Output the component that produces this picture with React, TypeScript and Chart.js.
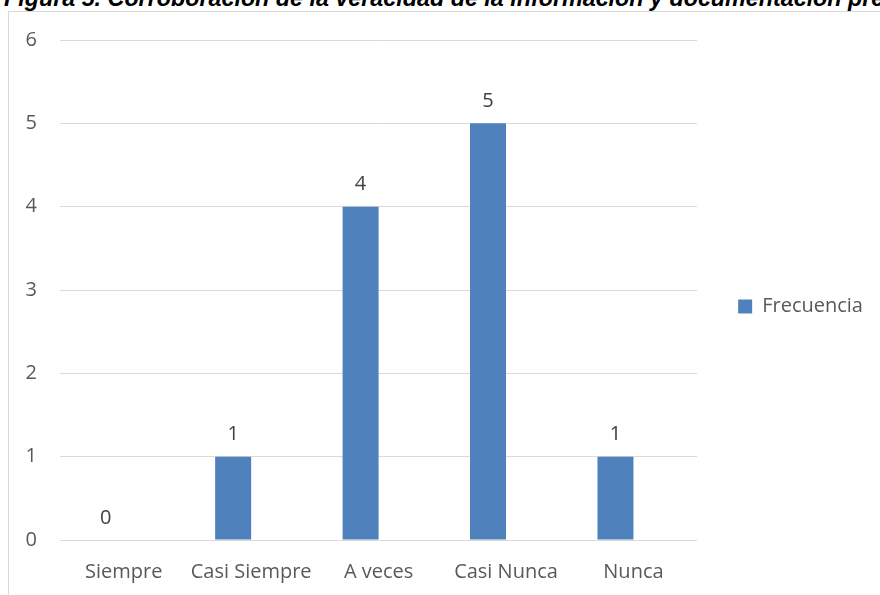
import React, { useEffect, useRef } from "react";
import { Chart, registerables } from "chart.js";

Chart.register(...registerables);

const titleText =
  "Figura 5. Corroboración de la veracidad de la información y documentación presentada";
const categories = ["Siempre", "Casi Siempre", "A veces", "Casi Nunca", "Nunca"];
const seriesName = "Frecuencia";
const frecuencia = [0, 1, 4, 5, 1];
// second (empty) series present in the original workbook, it reserves the right-hand slot of each group
const emptySeries: (number | null)[] = [null, null, null, null, null];
const yMin = 0;
const yMax = 6;
const yStep = 1;

const FONT = "'Open Sans', sans-serif";
const TEXT = "#595959";
const GRID = "#d9d9d9";
const BAR = "#4f81bd";

const valueLabels = {
  id: "valueLabels",
  afterDatasetsDraw(chart: any) {
    const ctx = chart.ctx;
    const meta = chart.getDatasetMeta(0);
    ctx.save();
    ctx.font = `20px ${FONT}`;
    ctx.fillStyle = "#404040";
    ctx.textAlign = "center";
    ctx.textBaseline = "bottom";
    meta.data.forEach((bar: any, i: number) => {
      const v = chart.data.datasets[0].data[i];
      if (v === null || v === undefined) return;
      ctx.fillText(String(v), bar.x, bar.y - 12);
    });
    ctx.restore();
  },
};

// nudges the legend block up so it sits level with the middle of the plot, as in the original
const legendNudge = {
  id: "legendNudge",
  afterLayout(chart: any) {
    const l = chart.legend;
    if (!l) return;
    l.top -= 11;
    l.bottom -= 11;
  },
};

export default function App() {
  const ref = useRef<HTMLCanvasElement | null>(null);

  useEffect(() => {
    if (!ref.current) return;
    const chart = new Chart(ref.current, {
      type: "bar",
      data: {
        labels: categories,
        datasets: [
          {
            label: seriesName,
            data: frecuencia,
            backgroundColor: BAR,
            borderWidth: 0,
          },
          {
            label: "",
            data: emptySeries as any,
            backgroundColor: BAR,
            borderWidth: 0,
          },
        ],
      },
      options: {
        animation: false,
        responsive: false,
        devicePixelRatio: 1,
        layout: { padding: { top: 28, left: 0, right: 8, bottom: 0 } },
        datasets: {
          bar: { categoryPercentage: 0.565, barPercentage: 1 },
        },
        plugins: {
          legend: {
            position: "right",
            labels: {
              boxWidth: 14,
              boxHeight: 14,
              color: TEXT,
              font: { family: FONT, size: 20 },
              filter: (item: any) => item.text === seriesName,
            },
          },
          tooltip: { enabled: false },
          title: { display: false },
        },
        scales: {
          x: {
            grid: { display: false, drawTicks: false },
            border: { display: false },
            ticks: {
              color: TEXT,
              font: { family: FONT, size: 20 },
              padding: 20,
              maxRotation: 0,
              autoSkip: false,
            },
            afterFit: (s: any) => {
              s.height = 55;
              s.paddingLeft = 0;
              s.paddingRight = 0;
            },
          },
          y: {
            min: yMin,
            max: yMax,
            grid: { color: GRID, lineWidth: 1, drawTicks: false },
            border: { display: false },
            ticks: {
              stepSize: yStep,
              color: TEXT,
              font: { family: FONT, size: 20 },
              padding: 23,
            },
            afterFit: (s: any) => {
              s.width = 51;
              s.paddingTop = 0;
              s.paddingBottom = 0;
            },
          },
          gap: {
            type: "linear",
            position: "right",
            display: true,
            grid: { display: false, drawTicks: false },
            border: { display: false },
            ticks: { display: false },
            afterFit: (s: any) => {
              s.width = 31;
              s.paddingTop = 0;
              s.paddingBottom = 0;
            },
          },
        },
      },
      plugins: [valueLabels, legendNudge],
    });
    return () => chart.destroy();
  }, []);

  return (
    <div
      style={{
        position: "fixed",
        left: 0,
        top: 0,
        width: 880,
        height: 595,
        overflow: "hidden",
        background: "#ffffff",
      }}
    >
      <div
        style={{
          position: "absolute",
          left: 4,
          top: -13,
          whiteSpace: "nowrap",
          fontFamily: "'Liberation Sans', Arial, sans-serif",
          fontWeight: "bold",
          fontStyle: "italic",
          fontSize: 23.3,
          lineHeight: "23px",
          color: "#000000",
        }}
      >
        {titleText}
      </div>
      <div
        style={{
          position: "absolute",
          left: 8,
          top: 11,
          width: 900,
          height: 620,
          borderLeft: `1px solid ${GRID}`,
          borderTop: `1px solid ${GRID}`,
        }}
      />
      <canvas
        ref={ref}
        width={871}
        height={583}
        style={{ position: "absolute", left: 9, top: 12, width: 871, height: 583 }}
      />
    </div>
  );
}
